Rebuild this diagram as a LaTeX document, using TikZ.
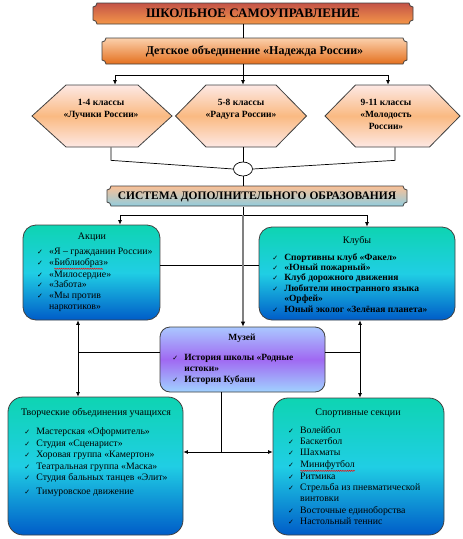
\documentclass[tikz,border=0pt]{standalone}
\usepackage{fontspec}
\setmainfont{Liberation Serif}
\newfontfamily\checkf{DejaVu Sans}
\usetikzlibrary{shapes.geometric,arrows.meta,decorations.pathmorphing}
\definecolor{brd}{RGB}{64,64,64}
\definecolor{ttop}{RGB}{196,84,72}
\definecolor{tbot}{RGB}{244,150,72}
\definecolor{dtop}{RGB}{251,208,172}
\definecolor{dbot}{RGB}{228,112,30}
\definecolor{htop}{RGB}{253,232,228}
\definecolor{hmid}{RGB}{250,186,130}
\definecolor{stop}{RGB}{250,192,150}
\definecolor{sbot}{RGB}{146,205,222}
\definecolor{bxtop}{RGB}{14,212,178}
\definecolor{bxmid}{RGB}{32,206,228}
\definecolor{bxbot}{RGB}{0,92,200}
\definecolor{mtop}{RGB}{170,200,255}
\definecolor{mmid}{RGB}{160,105,242}
\definecolor{mbot}{RGB}{160,210,255}
\newcommand\ckm{\makebox[12pt][l]{\checkf\fontsize{7}{7}\selectfont ✓}}
\newcommand\redwave[1]{\tikz[baseline=(w.base)]{\node[inner sep=0pt,outer sep=0pt](w){#1};\draw[red,line width=0.45pt,decorate,decoration={snake,amplitude=0.6pt,segment length=2.2pt}]([yshift=-1.6pt]w.south west)--([yshift=-1.6pt]w.south east);}}
\newcommand\plaque[5]{\path[#1] (#2+4,#3) -- (#4-4,#3) .. controls (#4-4,#3+2.2) and (#4-2.2,#3+4) .. (#4,#3+4) -- (#4,#5-4) .. controls (#4-2.2,#5-4) and (#4-4,#5-2.2) .. (#4-4,#5) -- (#2+4,#5) .. controls (#2+4,#5-2.2) and (#2+2.2,#5-4) .. (#2,#5-4) -- (#2,#3+4) .. controls (#2+2.2,#3+4) and (#2+4,#3+2.2) .. (#2+4,#3) -- cycle;}
\newcommand\hexa[3]{\path[hexsty] (#1-#2,116) -- (#1-#3,85) -- (#1+#3,85) -- (#1+#2,116) -- (#1+#3,147) -- (#1-#3,147) -- cycle;}
\begin{document}
\begin{tikzpicture}[x=1pt,y=-1pt,line width=0.7pt,
  arr/.style={-{Latex[length=4.5pt,width=4pt]}},
  arrb/.style={{Latex[length=4.5pt,width=4pt]}-{Latex[length=4.5pt,width=4pt]}},
  plq/.style={draw=brd,line width=0.8pt},
  hexsty/.style={draw=brd,line width=0.8pt,top color=htop,bottom color=htop,middle color=hmid},
  box/.style={draw=brd,line width=0.8pt,inner sep=0pt},
  bluebox/.style={box,rounded corners=13pt,top color=bxtop,bottom color=bxbot,middle color=bxmid},
  hole/.style={inner sep=0pt},
  hext/.style={inner sep=0pt,anchor=north,align=center,font=\bfseries\fontsize{9.5}{12}\selectfont},
  head/.style={inner sep=0pt,font=\fontsize{10}{12}\selectfont},
  lst/.style={inner sep=0pt,anchor=north west},
  regf/.style={font=\fontsize{9.8}{10.8}\selectfont},
  boldf/.style={font=\bfseries\fontsize{9.5}{10.4}\selectfont}
]
\useasboundingbox (0,0) rectangle (463,539);
% helper coordinates
\coordinate (cx) at (243,0);
\coordinate (j1) at (243,75);
\coordinate (x1a) at (115,0);
\coordinate (x3a) at (388,0);
\coordinate (x1b) at (111,0);
\coordinate (x3b) at (395,0);
\coordinate (j2) at (243,215);
\coordinate (xa) at (120,0);
\coordinate (xk) at (367,0);
\coordinate (yl) at (0,265);
\coordinate (xl) at (78,0);
\coordinate (xr) at (360,0);
\coordinate (ym) at (0,352);
\coordinate (xm) at (221,0);
\coordinate (yb) at (0,452);

% top plaques
\plaque{plq,top color=ttop,bottom color=tbot}{93}{3}{413}{24}
\node[hole,minimum width=320,minimum height=21,font=\bfseries\fontsize{13}{15}\selectfont] (top) at (253,13.5) {ШКОЛЬНОЕ САМОУПРАВЛЕНИЕ};
\plaque{plq,top color=dtop,bottom color=dbot}{102}{38}{407}{64}
\node[hole,minimum width=305,minimum height=26,font=\bfseries\fontsize{12}{14}\selectfont] (det) at (254.5,51) {Детское объединение «Надежда России»};

% hexagons
\hexa{102}{70}{36}
\hexa{241}{65.5}{35}
\hexa{392.5}{67.5}{37}
\node[hole,minimum width=140,minimum height=62] (h1) at (102,116) {};
\node[hole,minimum width=131,minimum height=62] (h2) at (241,116) {};
\node[hole,minimum width=135,minimum height=62] (h3) at (392.5,116) {};
\node[hext] (h1t) at (101,98.5) {1-4 классы\\«Лучики России»};
\node[hext] (h2t) at (241,98.5) {5-8 классы\\«Радуга России»};
\node[hext] (h3t) at (386,98.5) {9-11 классы\\«Молодость\\России»};

% ellipse
\node[ellipse,draw=black,fill=white,line width=0.7pt,minimum width=19,minimum height=14,inner sep=0pt] (el) at (243,169) {};

% system plaque
\plaque{plq,top color=stop,bottom color=sbot}{107}{186}{407}{206}
\node[hole,minimum width=300,minimum height=20,font=\bfseries\fontsize{11.5}{13}\selectfont] (sis) at (257,196.5) {СИСТЕМА ДОПОЛНИТЕЛЬНОГО ОБРАЗОВАНИЯ};

% boxes
\node[bluebox,minimum width=137,minimum height=95] (ak) at (91.5,272.5) {};
\node[bluebox,minimum width=196,minimum height=93] (kl) at (357,273.5) {};
\path[draw=brd,line width=0.8pt,rounded corners=10pt,top color=mtop,bottom color=mbot,middle color=mmid] (160,327) rectangle (325,392);
\node[hole,minimum width=165,minimum height=65] (mu) at (242.5,359.5) {};
\node[bluebox,rounded corners=15pt,minimum width=175,minimum height=138] (tv) at (95.5,466) {};
\node[bluebox,rounded corners=15pt,minimum width=171,minimum height=137] (sp) at (358.5,466.5) {};

% headings
\node[head] (akh) at (92,237) {Акции};
\node[head] (klh) at (357,241) {Клубы};
\node[head,font=\bfseries\fontsize{9.5}{12}\selectfont] (muh) at (242,338) {Музей};
\node[head] (tvh) at (96,413) {Творческие объединения учащихся};
\node[head] (sph) at (358,413) {Спортивные секции};

% lists
\node[lst,regf] (akl) at (37,246.5) {\begin{tabular}{@{}l@{}l@{}}
\ckm & «Я – гражданин России»\\
\ckm & «\redwave{Библиобраз}»\\
\ckm & «Милосердие»\\
\ckm & «Забота»\\
\ckm & «Мы против\\
 & наркотиков»\end{tabular}};
\node[lst,boldf] (kll) at (272,252.5) {\begin{tabular}{@{}l@{}l@{}}
\ckm & Спортивны клуб «Факел»\\
\ckm & «Юный пожарный»\\
\ckm & Клуб дорожного движения\\
\ckm & Любители иностранного языка\\
 & «Орфей»\\
\ckm & Юный эколог «Зелёная планета»\end{tabular}};
\node[lst,font=\bfseries\fontsize{9.5}{11}\selectfont] (mul) at (172,352.5) {\begin{tabular}{@{}l@{}l@{}}
\ckm & История школы «Родные\\
 & истоки»\\
\ckm & История Кубани\end{tabular}};
\node[lst,font=\fontsize{9.8}{11.4}\selectfont] (tvl) at (24,426.5) {\begin{tabular}{@{}l@{}l@{}}
\ckm & Мастерская «Оформитель»\\
\ckm & Студия «Сценарист»\\
\ckm & Хоровая группа «Камертон»\\
\ckm & Театральная группа «Маска»\\
\ckm & Студия бальных танцев «Элит»\\[2.5pt]
\ckm & Тимуровское движение\end{tabular}};
\node[lst,font=\fontsize{9.8}{11.2}\selectfont] (spl) at (288,425.5) {\begin{tabular}{@{}l@{}l@{}}
\ckm & Волейбол\\
\ckm & Баскетбол\\
\ckm & Шахматы\\
\ckm & \redwave{Минифутбол}\\
\ckm & Ритмика\\
\ckm & Стрельба из пневматической\\
 & винтовки\\
\ckm & Восточные единоборства\\
\ckm & Настольный теннис\end{tabular}};

% connectors
\draw (top.south -| cx) -- (det.north -| cx);
\draw (det.south -| cx) -- (j1);
\draw[arr] (j1) -| (h1.north -| x1a);
\draw[arr] (j1) -- (h2.north -| cx);
\draw[arr] (j1) -| (h3.north -| x3a);
\draw (h1.south -| x1b) -- ++(0,13) -- (el.west);
\draw (h3.south -| x3b) -- ++(0,13) -- (el.east);
\draw (h2.south -| cx) -- (el.north);
\draw (el.south) -- (sis.north -| cx);
\draw (sis.south -| cx) -- (j2);
\draw[arr] (j2) -| (ak.north -| xa);
\draw[arr] (j2) -| (kl.north -| xk);
\draw (ak.east |- yl) -- (kl.west |- yl);
\draw[line width=1.8pt,draw=gray,-{Latex[length=5pt,width=4.5pt,color=black]}] (j2) -- (mu.north -| cx);
\draw[arrb] (ak.south -| xl) -- (tv.north -| xl);
\draw[arrb] (kl.south -| xr) -- (sp.north -| xr);
\draw (mu.west |- ym) -- (xl |- ym);
\draw (mu.east |- ym) -- (xr |- ym);
\draw (mu.south -| xm) -- (xm |- yb);
\draw[arrb] (tv.east |- yb) -- (sp.west |- yb);
\end{tikzpicture}
\end{document}
